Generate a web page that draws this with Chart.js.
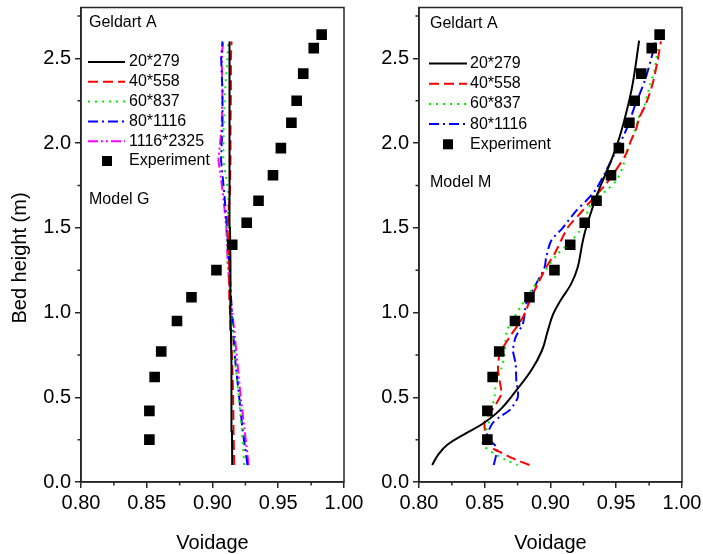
<!DOCTYPE html>
<html>
<head>
<meta charset="utf-8">
<script src="https://cdn.jsdelivr.net/npm/chart.js@4.4.1/dist/chart.umd.min.js"></script>
<style>
    body { margin: 0; background: #fff; }
    #wrap { position: relative; width: 703px; height: 554px; }
    canvas { position: absolute; top: 0; }
    #chart-g { left: 0; }
    #chart-m { left: 372px; }
</style>
</head>
<body>
<div id="wrap">
    <canvas id="chart-g" width="372" height="554"></canvas>
    <canvas id="chart-m" width="331" height="554"></canvas>
</div>
<script>
// experiment, same points in both panels
const expHeight = [0.25, 0.42, 0.62, 0.77, 0.95, 1.09, 1.25, 1.40, 1.53, 1.66, 1.81, 1.97, 2.12, 2.25, 2.41, 2.56, 2.64];
const expVoidage = [0.852, 0.852, 0.856, 0.861, 0.873, 0.884, 0.903, 0.915, 0.926, 0.935, 0.946, 0.952, 0.960, 0.964, 0.969, 0.977, 0.983];

// model G, all grids read at the same heights
const gHeight = [0.1, 0.3, 0.5, 0.7, 0.9, 1.1, 1.3, 1.5, 1.7, 1.9, 2.1, 2.3, 2.5, 2.6];
const g20x279 = [0.915, 0.9148, 0.9145, 0.9143, 0.914, 0.9138, 0.9135, 0.9133, 0.9131, 0.913, 0.913, 0.9129, 0.9128, 0.9128];
const g40x558 = [0.9165, 0.916, 0.9157, 0.915, 0.914, 0.9127, 0.9127, 0.9114, 0.9132, 0.9137, 0.9137, 0.914, 0.914, 0.9145];
const g60x837 = [0.9241, 0.9224, 0.920, 0.9173, 0.9152, 0.9132, 0.9114, 0.9114, 0.9122, 0.9082, 0.9085, 0.9094, 0.9114, 0.912];
const g80x1116 = [0.9266, 0.923, 0.9203, 0.9175, 0.9155, 0.914, 0.9127, 0.911, 0.909, 0.9065, 0.9076, 0.9076, 0.9066, 0.9076];
const g1116x2325 = [0.9275, 0.9245, 0.9215, 0.919, 0.9165, 0.9135, 0.9115, 0.9105, 0.908, 0.9045, 0.907, 0.9075, 0.907, 0.908];

// model M
const m20x279Height = [0.10, 0.16, 0.22, 0.28, 0.345, 0.424, 0.541, 0.659, 0.776, 0.894, 0.99, 1.07, 1.169, 1.267, 1.40, 1.47, 1.56, 1.678, 1.776, 1.894, 2.03, 2.17, 2.345, 2.604];
const m20x279Voidage = [0.810, 0.8145, 0.8215, 0.834, 0.8487, 0.8614, 0.874, 0.8854, 0.8935, 0.898, 0.902, 0.9075, 0.9157, 0.9207, 0.924, 0.926, 0.9295, 0.9346, 0.9396, 0.946, 0.9523, 0.9573, 0.9624, 0.9674];

const m40x558Height = [0.10, 0.139, 0.178, 0.198, 0.266, 0.355, 0.463, 0.522, 0.659, 0.757, 0.855, 0.972, 1.09, 1.169, 1.267, 1.345, 1.384, 1.50, 1.58, 1.659, 1.757, 1.855, 1.933, 2.01, 2.09, 2.149, 2.227, 2.345, 2.48, 2.60];
const m40x558Voidage = [0.8841, 0.8715, 0.8614, 0.8563, 0.8513, 0.850, 0.8588, 0.8626, 0.8601, 0.8614, 0.8689, 0.879, 0.8854, 0.8904, 0.8967, 0.903, 0.9055, 0.913, 0.922, 0.9308, 0.942, 0.951, 0.9573, 0.961, 0.9654, 0.9674, 0.9724, 0.9775, 0.9813, 0.984];

const m60x837Height = [0.10, 0.129, 0.165, 0.228, 0.365, 0.443, 0.512, 0.60, 0.669, 0.747, 0.894, 1.04, 1.188, 1.335, 1.48, 1.659, 1.718, 1.776, 1.855, 1.93, 1.99, 2.06, 2.17, 2.21, 2.31, 2.43, 2.58];
const m60x837Voidage = [0.8752, 0.8664, 0.8576, 0.8482, 0.8538, 0.8558, 0.8576, 0.8588, 0.8626, 0.865, 0.867, 0.8778, 0.8904, 0.9043, 0.922, 0.932, 0.942, 0.9497, 0.9548, 0.9573, 0.960, 0.9636, 0.968, 0.971, 0.9745, 0.979, 0.982];

const m80x1116Height = [0.10, 0.165, 0.208, 0.266, 0.345, 0.384, 0.424, 0.502, 0.60, 0.698, 0.776, 0.855, 0.933, 1.051, 1.169, 1.267, 1.325, 1.424, 1.50, 1.60, 1.659, 1.727, 1.816, 1.894, 1.973, 2.05, 2.12, 2.208, 2.306, 2.384, 2.502, 2.60];
const m80x1116Voidage = [0.8568, 0.8588, 0.8588, 0.8517, 0.8558, 0.8614, 0.8689, 0.8752, 0.874, 0.8735, 0.8715, 0.8735, 0.879, 0.8816, 0.8891, 0.8955, 0.8967, 0.9005, 0.9093, 0.9195, 0.927, 0.9346, 0.9409, 0.946, 0.951, 0.956, 0.9598, 0.9636, 0.9687, 0.9724, 0.9767, 0.980];

const xTicks = [0.80, 0.85, 0.90, 0.95, 1.00];
const xMinorTicks = [0.825, 0.875, 0.925, 0.975];
const yTicks = [0.0, 0.5, 1.0, 1.5, 2.0, 2.5];
const yMinorTicks = [0.25, 0.75, 1.25, 1.75, 2.25, 2.75];

const FONT = '"Liberation Sans", Arial, sans-serif';
const AXIS = '#262626';

const styles = {
    '20*279': { color: '#000000', dash: [] },
    '40*558': { color: '#ff0000', dash: [10, 5] },
    '60*837': { color: '#00ee00', dash: [2, 5] },
    '80*1116': { color: '#0000ff', dash: [10, 4, 2, 4] },
    '1116*2325': { color: '#ff00ff', dash: [10, 3, 2, 3, 2, 3] },
};

function points(xs, ys) {
    return xs.map((v, i) => ({ x: v, y: ys[i] }));
}

function lineSet(label, xs, ys, tension) {
    return {
        label: label,
        data: points(xs, ys),
        showLine: true,
        borderColor: styles[label].color,
        borderDash: styles[label].dash,
        borderWidth: 2,
        pointRadius: 0,
        tension: tension,
    };
}

function experimentSet() {
    return {
        label: 'Experiment',
        data: points(expVoidage, expHeight),
        showLine: false,
        pointStyle: 'rect',
        pointRadius: 7.5,
        pointBorderWidth: 0,
        backgroundColor: '#000000',
        borderColor: '#000000',
    };
}

// frame, minor ticks, in-plot notes and legend
const panelDecor = {
    id: 'panelDecor',
    afterDraw(chart, args, opts) {
        const { ctx, chartArea: a, scales: { x, y } } = chart;
        ctx.save();
        ctx.strokeStyle = AXIS;
        ctx.lineWidth = 1.5;
        ctx.strokeRect(a.left, a.top, a.right - a.left, a.bottom - a.top);
        ctx.beginPath();
        xMinorTicks.forEach(v => {
            const px = x.getPixelForValue(v);
            ctx.moveTo(px, a.bottom);
            ctx.lineTo(px, a.bottom + 3.5);
        });
        yMinorTicks.forEach(v => {
            const py = y.getPixelForValue(v);
            ctx.moveTo(a.left, py);
            ctx.lineTo(a.left - 3.5, py);
        });
        ctx.stroke();

        ctx.fillStyle = '#000';
        ctx.textBaseline = 'middle';
        ctx.textAlign = 'left';
        ctx.font = '16px ' + FONT;
        opts.notes.forEach(n => ctx.fillText(n.text, n.x, n.y));

        const lg = opts.legend;
        const sets = chart.data.datasets.slice(1).concat(chart.data.datasets[0]);
        sets.forEach((ds, i) => {
            const yy = lg.top + i * lg.step;
            if (ds.showLine) {
                ctx.save();
                ctx.strokeStyle = ds.borderColor;
                ctx.lineWidth = 2;
                ctx.setLineDash(ds.borderDash);
                ctx.beginPath();
                ctx.moveTo(lg.x0, yy);
                ctx.lineTo(lg.x1, yy);
                ctx.stroke();
                ctx.restore();
            } else {
                ctx.fillRect(lg.mark - 5, yy - 5, 10, 10);
            }
            ctx.fillText(ds.label, lg.text, yy);
        });

        if (opts.yTitle) {
            ctx.save();
            ctx.translate(20.5, 258);
            ctx.rotate(-Math.PI / 2);
            ctx.textAlign = 'center';
            ctx.font = '20px ' + FONT;
            ctx.fillText(opts.yTitle, 0, 0);
            ctx.restore();
        }
        ctx.restore();
    }
};

function makeChart(canvasId, datasets, yAxisWidth, padRight, decor) {
    const ctx = document.getElementById(canvasId);
    const config = {
        type: 'scatter',
        data: { datasets: datasets },
        options: {
            responsive: false,
            animation: false,
            devicePixelRatio: 1,
            layout: { padding: { left: 0, right: padRight, top: 6, bottom: 0 } },
            scales: {
                x: {
                    type: 'linear',
                    min: 0.8,
                    max: 1.0,
                    afterBuildTicks: s => { s.ticks = xTicks.map(v => ({ value: v })); },
                    afterFit: s => { s.height = 72; s.paddingLeft = 0; s.paddingRight = 0; },
                    grid: { drawOnChartArea: false, drawTicks: true, tickLength: 6, color: AXIS, lineWidth: 1.5 },
                    border: { display: true, color: AXIS, width: 1.5 },
                    ticks: {
                        color: '#000',
                        font: { family: FONT, size: 20 },
                        padding: 3,
                        maxRotation: 0,
                        autoSkip: false,
                        callback: v => v.toFixed(2),
                    },
                    title: {
                        display: true,
                        text: 'Voidage',
                        color: '#000',
                        font: { family: FONT, size: 20, lineHeight: 1 },
                        padding: { top: 4, bottom: 1 },
                    },
                },
                y: {
                    type: 'linear',
                    min: 0,
                    max: 2.8,
                    afterBuildTicks: s => { s.ticks = yTicks.map(v => ({ value: v })); },
                    afterFit: s => { s.width = yAxisWidth; s.paddingTop = 0; s.paddingBottom = 0; },
                    grid: { drawOnChartArea: false, drawTicks: true, tickLength: 6, color: AXIS, lineWidth: 1.5 },
                    border: { display: true, color: AXIS, width: 1.5 },
                    ticks: {
                        color: '#000',
                        font: { family: FONT, size: 20 },
                        padding: 4,
                        autoSkip: false,
                        callback: v => v.toFixed(1),
                    },
                },
            },
            plugins: {
                legend: { display: false },
                tooltip: { enabled: false },
                panelDecor: decor,
            },
        },
        plugins: [panelDecor],
    };
    return new Chart(ctx, config);
}

makeChart('chart-g', [
    experimentSet(),
    lineSet('20*279', g20x279, gHeight, 0),
    lineSet('40*558', g40x558, gHeight, 0),
    lineSet('60*837', g60x837, gHeight, 0),
    lineSet('80*1116', g80x1116, gHeight, 0),
    lineSet('1116*2325', g1116x2325, gHeight, 0),
], 81, 28, {
    notes: [{ text: 'Geldart A', x: 89, y: 23 }, { text: 'Model G', x: 89, y: 200 }],
    legend: { top: 62, step: 19.8, x0: 88, x1: 125, text: 129, mark: 107 },
    yTitle: 'Bed height (m)',
});

makeChart('chart-m', [
    experimentSet(),
    lineSet('20*279', m20x279Voidage, m20x279Height, 0.4),
    lineSet('40*558', m40x558Voidage, m40x558Height, 0.25),
    lineSet('60*837', m60x837Voidage, m60x837Height, 0.25),
    lineSet('80*1116', m80x1116Voidage, m80x1116Height, 0.25),
], 47, 21, {
    notes: [{ text: 'Geldart A', x: 58, y: 24 }, { text: 'Model M', x: 58, y: 183 }],
    legend: { top: 63.5, step: 20.2, x0: 57, x1: 95, text: 98, mark: 76 },
});
</script>
</body>
</html>
